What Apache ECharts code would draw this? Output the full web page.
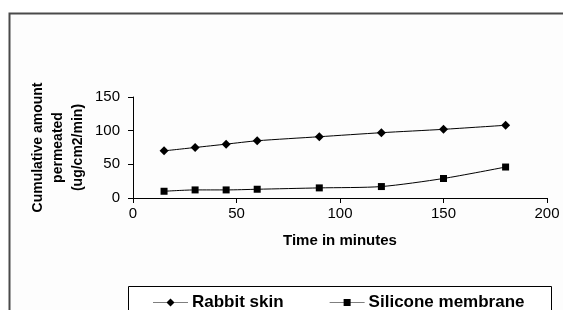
<!DOCTYPE html>
<html>
<head>
<meta charset="utf-8">
<script src="https://cdn.jsdelivr.net/npm/echarts@6/dist/echarts.min.js"></script>
<style>
  html, body { margin: 0; padding: 0; background: #fff; }
  #chart { width: 563px; height: 310px; }
</style>
</head>
<body>
<div id="chart"></div>
<script>
// time points (minutes)
var times = [15, 30, 45, 60, 90, 120, 150, 180];
// cumulative amount permeated (ug/cm2/min)
var rabbitSkin = [70, 75, 80, 85, 91, 97, 102, 108];
var siliconeMembrane = [10, 12, 12, 13, 15, 17, 29, 46];
var seriesNames = ["Rabbit skin", "Silicone membrane"];

function pairs(xs, ys) {
  return xs.map(function (x, i) { return [x, ys[i]]; });
}

var font = "'Liberation Sans', Arial, sans-serif";
var chart = echarts.init(document.getElementById("chart"));

chart.setOption({
  animation: false,
  backgroundColor: "#fff",
  textStyle: { fontFamily: font },
  graphic: [
    // outer chart-area border (runs off the right and bottom)
    {
      type: "rect",
      shape: { x: 9.5, y: 13.5, width: 600, height: 400 },
      style: { fill: "#fdfdfd", stroke: "#4a4a4a", lineWidth: 2 },
      z: -10
    },
    // legend box
    {
      type: "rect",
      shape: { x: 128.5, y: 286.5, width: 423, height: 40 },
      style: { fill: "#fff", stroke: "#000", lineWidth: 1 },
      z: -5
    }
  ],
  grid: { left: 133, right: 16, top: 97, bottom: 112, containLabel: false },
  legend: {
    left: 148,
    top: 289,
    itemWidth: 35,
    itemHeight: 9,
    itemGap: 46,
    textStyle: { fontFamily: font, fontSize: 17, fontWeight: "bold", color: "#000", padding: [0, 0, 0, -1] },
    data: [
      { name: seriesNames[0], icon: "path://M0,4.2 H35 V4.8 H0 Z M17.5,0.5 L21.5,4.5 L17.5,8.5 L13.5,4.5 Z" },
      { name: seriesNames[1], icon: "path://M0,4.2 H35 V4.8 H0 Z M14,1 H21 V8 H14 Z" }
    ]
  },
  xAxis: {
    type: "value",
    min: 0,
    max: 200,
    interval: 50,
    name: "Time in minutes",
    nameLocation: "middle",
    nameGap: 35,
    nameTextStyle: { fontFamily: font, fontSize: 15, fontWeight: "bold", color: "#000" },
    axisLine: { show: true, lineStyle: { color: "#000", width: 1 } },
    axisTick: { show: true, inside: false, length: 5, lineStyle: { color: "#000" } },
    axisLabel: { fontFamily: font, fontSize: 15, color: "#000", margin: 8 },
    splitLine: { show: false }
  },
  yAxis: {
    type: "value",
    min: 0,
    max: 150,
    interval: 50,
    name: "Cumulative amount\npermeated\n(ug/cm2/min)",
    nameLocation: "middle",
    nameGap: 45,
    nameMoveOverlap: false,
    nameRotate: 90,
    nameTextStyle: { fontFamily: font, fontSize: 14, fontWeight: "bold", color: "#000", lineHeight: 20, align: "center" },
    axisLine: { show: true, lineStyle: { color: "#000", width: 1 } },
    axisTick: { show: true, inside: false, length: 5, lineStyle: { color: "#000" } },
    axisLabel: { fontFamily: font, fontSize: 15, color: "#000", margin: 13 },
    splitLine: { show: false }
  },
  series: [
    {
      name: seriesNames[0],
      type: "line",
      data: pairs(times, rabbitSkin),
      smooth: 0.25,
      symbol: "diamond",
      symbolSize: 9,
      itemStyle: { color: "#000" },
      lineStyle: { color: "#000", width: 1 }
    },
    {
      name: seriesNames[1],
      type: "line",
      data: pairs(times, siliconeMembrane),
      smooth: 0.25,
      symbol: "rect",
      symbolSize: 7,
      itemStyle: { color: "#000" },
      lineStyle: { color: "#000", width: 1 }
    }
  ]
});
</script>
</body>
</html>
